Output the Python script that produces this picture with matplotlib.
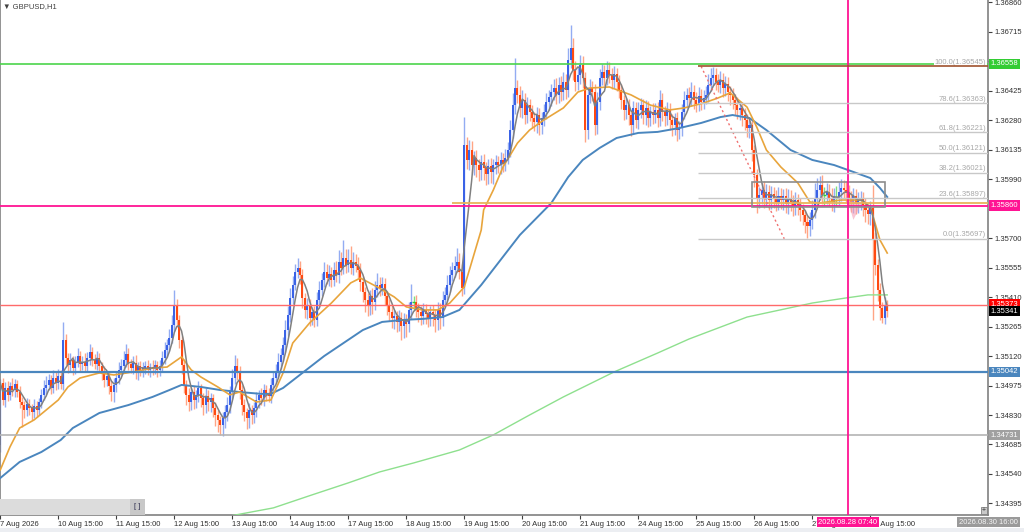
import numpy as np
import pandas as pd
import matplotlib
matplotlib.use("Agg")
import matplotlib.pyplot as plt
from matplotlib.patches import Rectangle, Polygon

plt.rcParams['font.family'] = ['Liberation Sans', 'DejaVu Sans']

# ---------------- data ----------------
symbol_title = "GBPUSD,H1"
open_first = 1.34680

close = [
    1.34988, 1.34904, 1.34963, 1.34929, 1.34973, 1.34953, 1.34983, 1.34943, 1.34894, 1.34879,
    1.34855, 1.34884, 1.34865, 1.34845, 1.34874, 1.34855, 1.34894, 1.34929, 1.34963, 1.34978,
    1.35002, 1.34963, 1.35012, 1.34988, 1.35022, 1.34983, 1.35199, 1.35111, 1.35076, 1.35101,
    1.35061, 1.35091, 1.35120, 1.35081, 1.35091, 1.35071, 1.35111, 1.35140, 1.35101, 1.35081,
    1.35111, 1.35071, 1.35042, 1.35002, 1.35022, 1.34973, 1.34943, 1.34978, 1.35012, 1.35052,
    1.35071, 1.35101, 1.35130, 1.35081, 1.35061, 1.35086, 1.35042, 1.35071, 1.35052, 1.35061,
    1.35071, 1.35052, 1.35066, 1.35057, 1.35076, 1.35052, 1.35071, 1.35111, 1.35150, 1.35175,
    1.35209, 1.35273, 1.35371, 1.35298, 1.35199, 1.35076, 1.34978, 1.34929, 1.34894, 1.34943,
    1.34904, 1.34929, 1.34963, 1.34914, 1.34879, 1.34924, 1.34894, 1.34914, 1.34865, 1.34830,
    1.34806, 1.34781, 1.34815, 1.34845, 1.34879, 1.34943, 1.35012, 1.35071, 1.35042, 1.34953,
    1.34879, 1.34845, 1.34815, 1.34855, 1.34830, 1.34865, 1.34904, 1.34929, 1.34914, 1.34953,
    1.34934, 1.34924, 1.34978, 1.35012, 1.35042, 1.35091, 1.35125, 1.35175, 1.35248, 1.35322,
    1.35406, 1.35470, 1.35534, 1.35553, 1.35519, 1.35406, 1.35347, 1.35371, 1.35307, 1.35337,
    1.35298, 1.35396, 1.35445, 1.35494, 1.35534, 1.35504, 1.35524, 1.35494, 1.35544, 1.35519,
    1.35583, 1.35553, 1.35603, 1.35568, 1.35593, 1.35553, 1.35583, 1.35563, 1.35544, 1.35485,
    1.35435, 1.35396, 1.35371, 1.35416, 1.35386, 1.35445, 1.35470, 1.35455, 1.35475, 1.35416,
    1.35371, 1.35337, 1.35307, 1.35317, 1.35288, 1.35307, 1.35268, 1.35298, 1.35278, 1.35347,
    1.35386, 1.35386, 1.35357, 1.35337, 1.35317, 1.35347, 1.35327, 1.35307, 1.35337, 1.35322,
    1.35298, 1.35347, 1.35307, 1.35396, 1.35421, 1.35470, 1.35519, 1.35544, 1.35563, 1.35583,
    1.35534, 1.35455, 1.36159, 1.36085, 1.36134, 1.36060, 1.36095, 1.36060, 1.36036, 1.36075,
    1.36045, 1.36016, 1.36055, 1.36026, 1.36060, 1.36075, 1.36060, 1.36085, 1.36065, 1.36095,
    1.36134, 1.36232, 1.36355, 1.36439, 1.36405, 1.36341, 1.36380, 1.36306, 1.36355, 1.36321,
    1.36291, 1.36272, 1.36306, 1.36257, 1.36291, 1.36321, 1.36370, 1.36395, 1.36419, 1.36439,
    1.36405, 1.36454, 1.36419, 1.36469, 1.36429, 1.36577, 1.36636, 1.36528, 1.36469, 1.36503,
    1.36552, 1.36488, 1.36232, 1.36405, 1.36439, 1.36419, 1.36257, 1.36370, 1.36488, 1.36518,
    1.36488, 1.36528, 1.36503, 1.36478, 1.36508, 1.36469, 1.36429, 1.36380, 1.36331, 1.36355,
    1.36306, 1.36257, 1.36341, 1.36282, 1.36331, 1.36355, 1.36306, 1.36341, 1.36291, 1.36321,
    1.36306, 1.36331, 1.36291, 1.36380, 1.36321, 1.36301, 1.36331, 1.36282, 1.36257, 1.36291,
    1.36232, 1.36242, 1.36321, 1.36380, 1.36405, 1.36390, 1.36419, 1.36380, 1.36360, 1.36400,
    1.36370, 1.36390, 1.36405, 1.36454, 1.36488, 1.36503, 1.36469, 1.36454, 1.36478, 1.36439,
    1.36459, 1.36419, 1.36405, 1.36380, 1.36355, 1.36331, 1.36341, 1.36306, 1.36282, 1.36242,
    1.36257, 1.36134, 1.36011, 1.35898, 1.35913, 1.35937, 1.35898, 1.35927, 1.35888, 1.35918,
    1.35898, 1.35878, 1.35908, 1.35888, 1.35908, 1.35868, 1.35898, 1.35878, 1.35858, 1.35888,
    1.35863, 1.35839, 1.35814, 1.35780, 1.35760, 1.35790, 1.35839, 1.35898, 1.35937, 1.35962,
    1.35913, 1.35913, 1.35927, 1.35898, 1.35878, 1.35903, 1.35903, 1.35927, 1.35947, 1.35937,
    1.35922, 1.35898, 1.35878, 1.35908, 1.35868, 1.35888, 1.35898, 1.35863, 1.35839, 1.35819,
    1.35849, 1.35691, 1.35568, 1.35445, 1.35357, 1.35307, 1.35366, 1.35341,
]

# wick length above / below the candle body, in points (0.00001)
wick_up_pts = [
    20, 25, 30, 35, 20, 40, 25, 20, 30, 25, 20, 30, 25, 20, 35, 25, 20, 30, 40, 45,
    30, 25, 40, 30, 35, 30, 89, 30, 25, 35, 20, 30, 40, 25, 30, 45, 30, 40, 25, 30,
    35, 25, 20, 30, 25, 20, 30, 35, 30, 40, 35, 45, 50, 30, 25, 35, 40, 20, 25, 30,
    25, 30, 20, 35, 25, 20, 30, 35, 40, 30, 45, 50, 74, 30, 25, 20, 30, 25, 35, 20,
    30, 25, 35, 20, 25, 40, 30, 25, 20, 30, 25, 20, 30, 35, 40, 30, 45, 55, 40, 30,
    25, 30, 20, 35, 25, 30, 40, 25, 35, 30, 25, 30, 35, 30, 40, 45, 35, 40, 50, 45,
    50, 45, 40, 50, 35, 30, 25, 35, 30, 25, 30, 40, 45, 35, 50, 40, 45, 35, 40, 45,
    60, 50, 90, 45, 55, 70, 50, 40, 45, 35, 30, 25, 35, 30, 40, 45, 60, 40, 35, 30,
    25, 30, 35, 30, 25, 40, 30, 35, 30, 40, 90, 30, 35, 25, 30, 35, 30, 25, 30, 35,
    30, 40, 35, 45, 40, 50, 45, 40, 50, 70, 45, 40, 138, 40, 50, 45, 35, 40, 30, 35,
    40, 30, 35, 40, 30, 35, 30, 40, 35, 45, 40, 50, 60, 148, 40, 45, 50, 35, 40, 30,
    35, 30, 40, 35, 30, 40, 45, 35, 40, 45, 50, 40, 45, 50, 40, 60, 113, 50, 45, 40,
    50, 45, 30, 40, 45, 35, 40, 50, 45, 40, 35, 45, 40, 35, 40, 30, 35, 30, 25, 35,
    30, 25, 35, 30, 40, 35, 30, 40, 35, 30, 45, 35, 40, 50, 35, 30, 40, 35, 30, 25,
    30, 35, 40, 45, 35, 40, 50, 35, 40, 45, 35, 40, 45, 55, 49, 40, 35, 40, 45, 35,
    40, 35, 30, 35, 30, 40, 35, 30, 35, 30, 25, 30, 25, 30, 40, 35, 45, 40, 35, 40,
    35, 40, 45, 40, 35, 40, 45, 40, 35, 40, 30, 35, 30, 25, 30, 40, 50, 74, 60, 45,
    50, 40, 45, 40, 50, 45, 55, 50, 45, 40, 45, 40, 35, 40, 35, 40, 35, 30, 35, 30,
    35, 113, 40, 30, 35, 30, 45, 30,
]
wick_dn_pts = [
    30, 25, 35, 30, 25, 30, 35, 25, 30, 108, 40, 30, 35, 40, 30, 35, 25, 30, 25, 30,
    25, 30, 25, 35, 30, 25, 30, 35, 40, 30, 35, 30, 25, 35, 30, 25, 30, 35, 30, 25,
    30, 35, 40, 35, 30, 40, 45, 50, 35, 30, 25, 30, 35, 30, 25, 30, 35, 40, 30, 35,
    30, 25, 35, 30, 25, 35, 30, 25, 30, 35, 30, 25, 30, 35, 40, 45, 40, 50, 45, 40,
    45, 40, 35, 45, 50, 40, 45, 50, 45, 55, 60, 49, 55, 50, 45, 40, 35, 30, 40, 45,
    50, 45, 55, 50, 45, 40, 45, 40, 35, 40, 35, 30, 35, 30, 25, 30, 35, 30, 35, 30,
    35, 30, 25, 30, 45, 50, 40, 45, 40, 35, 35, 30, 25, 30, 35, 30, 40, 35, 30, 35,
    40, 35, 30, 40, 35, 30, 35, 30, 40, 45, 50, 60, 55, 50, 60, 40, 35, 40, 35, 45,
    50, 45, 50, 55, 50, 45, 70, 60, 65, 40, 45, 40, 45, 50, 45, 40, 50, 45, 40, 55,
    60, 50, 55, 40, 35, 30, 35, 30, 35, 30, 35, 40, 30, 45, 50, 40, 50, 60, 55, 50,
    60, 55, 50, 55, 60, 45, 40, 45, 40, 35, 30, 35, 40, 45, 40, 45, 50, 45, 40, 45,
    50, 45, 55, 50, 45, 40, 35, 40, 45, 40, 45, 40, 45, 40, 45, 35, 40, 50, 45, 40,
    45, 50, 59, 45, 40, 45, 50, 45, 40, 35, 40, 35, 40, 45, 40, 45, 40, 45, 50, 45,
    50, 55, 45, 40, 45, 40, 45, 50, 45, 40, 45, 40, 45, 40, 45, 50, 45, 50, 55, 50,
    55, 45, 40, 35, 40, 35, 40, 45, 40, 35, 40, 35, 30, 35, 30, 35, 40, 35, 40, 45,
    40, 45, 50, 45, 50, 45, 50, 55, 50, 45, 50, 55, 60, 74, 50, 45, 50, 45, 50, 45,
    50, 45, 40, 45, 50, 45, 50, 45, 50, 45, 50, 55, 50, 55, 59, 50, 45, 40, 45, 50,
    45, 50, 45, 40, 45, 50, 45, 40, 45, 40, 50, 45, 50, 55, 50, 45, 50, 55, 60, 50,
    55, 394, 50, 55, 60, 25, 30, 30,
]

# moving averages (bar index, price)
ma_orange_t = [0, 4, 8, 14, 18, 24, 28, 33, 41, 47, 55, 63, 69, 75, 79, 83, 90, 95, 99, 106,
               112, 117, 121, 128, 137, 145, 149, 156, 163, 168, 175, 181, 186, 192, 199, 200,
               204, 208, 214, 219, 225, 233, 239, 244, 252, 261, 269, 277, 283, 291, 297, 302,
               309, 313, 317, 323, 330, 335, 339, 348, 356, 360, 364, 367]
ma_orange_v = [1.34560, 1.34673, 1.34766, 1.34806, 1.34845, 1.34904, 1.34968, 1.35012, 1.35037, 1.35027,
               1.35042, 1.35061, 1.35066, 1.35116, 1.35052, 1.35017, 1.34968, 1.34929, 1.34943, 1.34894,
               1.34904, 1.35037, 1.35184, 1.35283, 1.35381, 1.35480, 1.35504, 1.35460, 1.35411, 1.35362,
               1.35347, 1.35347, 1.35381, 1.35460, 1.35740, 1.35839, 1.35937, 1.36050, 1.36168, 1.36232,
               1.36282, 1.36341, 1.36419, 1.36439, 1.36444, 1.36405, 1.36355, 1.36331, 1.36341, 1.36365,
               1.36390, 1.36415, 1.36345, 1.36247, 1.36134, 1.36050, 1.35972, 1.35878, 1.35873, 1.35888,
               1.35888, 1.35854, 1.35691, 1.35627]
ma_blue_t = [0, 8, 17, 25, 30, 41, 53, 63, 70, 75, 83, 91, 99, 108, 112, 117, 125, 134, 142, 150,
             158, 167, 175, 183, 190, 199, 207, 215, 228, 235, 241, 248, 255, 264, 272, 281, 290,
             298, 303, 310, 317, 327, 336, 345, 353, 360, 364, 367]
ma_blue_v = [1.34520, 1.34599, 1.34648, 1.34707, 1.34766, 1.34840, 1.34879, 1.34919, 1.34953, 1.34978,
             1.34968, 1.34953, 1.34943, 1.34934, 1.34934, 1.34963, 1.35037, 1.35120, 1.35184, 1.35248,
             1.35288, 1.35298, 1.35303, 1.35312, 1.35347, 1.35470, 1.35593, 1.35716, 1.35873, 1.36001,
             1.36085, 1.36144, 1.36193, 1.36218, 1.36223, 1.36242, 1.36267, 1.36296, 1.36306, 1.36291,
             1.36232, 1.36134, 1.36085, 1.36060, 1.36026, 1.35996, 1.35947, 1.35903]
ma_green_t = [95, 113, 129, 144, 157, 171, 190, 204, 219, 233, 254, 272, 285, 309, 336, 350, 359, 367]
ma_green_v = [1.34333, 1.34373, 1.34437, 1.34496, 1.34550, 1.34594, 1.34658, 1.34732, 1.34830, 1.34919,
              1.35042, 1.35135, 1.35204, 1.35312, 1.35381, 1.35406, 1.35421, 1.35421]
fast_ma_period = 5

time_ticks = [0, 24, 48, 72, 96, 120, 144, 168, 192, 216, 240, 264, 288, 312, 336, 360]
time_labels = ["7 Aug 2026", "10 Aug 15:00", "11 Aug 15:00", "12 Aug 15:00", "13 Aug 15:00",
               "14 Aug 15:00", "17 Aug 15:00", "18 Aug 15:00", "19 Aug 15:00", "20 Aug 15:00",
               "21 Aug 15:00", "24 Aug 15:00", "25 Aug 15:00", "26 Aug 15:00", "27 Aug 15:00",
               "28 Aug 15:00"]
price_ticks = [1.34395, 1.34540, 1.34685, 1.34830, 1.34975, 1.35120, 1.35265, 1.35410, 1.35555,
               1.35700, 1.35845, 1.35990, 1.36135, 1.36280, 1.36425, 1.36570, 1.36715, 1.36860]
# tick labels hidden behind the coloured price boxes
price_ticks_covered = [1.35845, 1.36570]

# horizontal levels: price, colour, width, first bar
hlines = [
    (1.36558, '#4CD44C', 1.2, None),
    (1.35860, '#FF1493', 1.3, None),
    (1.35875, '#E8B45A', 1.3, 187),
    (1.35373, '#FF6A6A', 1.0, None),
    (1.35042, '#4A86BE', 1.6, None),
    (1.34731, '#B4B4B4', 1.2, None),
]
price_boxes = [
    (1.36558, '1.36558', '#33CC33', 'white'),
    (1.35860, '1.35860', '#FF1493', 'white'),
    (1.35373, '1.35373', '#FF0000', 'white'),
    (1.35341, '1.35341', '#000000', 'white'),
    (1.35042, '1.35042', '#4A86BE', 'white'),
    (1.34731, '1.34731', '#A0A0A0', 'white'),
]
fib_levels = [100.0, 78.6, 61.8, 50.0, 38.2, 23.6, 0.0]
fib_prices = [1.36545, 1.36363, 1.36221, 1.36121, 1.36021, 1.35897, 1.35697]
fib_start_bar = 288.5
fib_trend = ([290.0, 324.4], [1.36545, 1.35697])
range_box = (311.2, 366.1, 1.35852, 1.35978)
pink_mark = [(350.5, 1.35890), (356.5, 1.35873), (353.0, 1.35790)]
cursor_bar = 350.8
cursor_time = "2026.08.28 07:40"
last_time = "2026.08.30 16:00"

# ---------------- figure ----------------
W, H = 1024, 532
fig = plt.figure(figsize=(W / 100, H / 100), dpi=100)
fig.patch.set_facecolor('white')
ax = fig.add_axes([0, 17 / H, 988 / W, 515 / H])
ax.set_facecolor('white')

c = np.array(close)
n = len(c)
x = np.arange(n)
o = np.r_[open_first, c[:-1]]
hi = np.maximum(o, c) + np.array(wick_up_pts[:n]) * 1e-5
lo = np.minimum(o, c) - np.array(wick_dn_pts[:n]) * 1e-5
bull = c > o + 1e-9
bear = c < o - 1e-9
doji = ~(bull | bear)

wick_col = np.where(bull, '#93ACF2', np.where(bear, '#FFA585', '#7FE07F'))
ax.vlines(x, lo, hi, colors=wick_col, lw=1.0, zorder=2)
ax.bar(x[bull], (c - o)[bull], bottom=o[bull], width=0.85, color='#3A62E6', lw=0, zorder=2.5)
ax.bar(x[bear], (o - c)[bear], bottom=c[bear], width=0.85, color='#FF4A12', lw=0, zorder=2.5)
ax.hlines(c[doji], x[doji] - 0.5, x[doji] + 0.5, colors='#33CC33', lw=1.0, zorder=2.5)

# moving averages
fast = pd.Series(c).rolling(fast_ma_period, min_periods=1).mean()
ax.plot(ma_green_t, ma_green_v, color='#8EE08E', lw=1.0, zorder=3)
ax.plot(ma_blue_t, ma_blue_v, color='#4A86BE', lw=1.4, zorder=3)
ax.plot(ma_orange_t, ma_orange_v, color='#E8A53C', lw=1.2, zorder=3.1)
ax.plot(x, fast, color='#808080', lw=1.1, zorder=3.2)

xmin, xmax = -0.124, 408.7
ax.set_xlim(xmin, xmax)
ax.set_ylim(1.34338, 1.36872)

for p, col, lw, start in hlines:
    ax.hlines(p, xmin if start is None else start, xmax, colors=col, lw=lw, zorder=3.5)

# fibonacci
ytr = ax.get_yaxis_transform()
for lv, p in zip(fib_levels, fib_prices):
    col = '#A0522D' if lv == 100.0 else '#C8C8C8'
    ax.hlines(p, fib_start_bar, xmax, colors=col, lw=1.2 if lv == 100.0 else 1.0, zorder=4.5)
    t = ax.text(986 / 988, p + 0.00003, f"{lv:.1f}({p:.5f})", transform=ytr, ha='right', va='bottom',
                fontsize=5.5, color='#A8A8A8', zorder=4)
    if lv == 100.0:
        t.set_bbox(dict(facecolor='white', edgecolor='none', pad=0.6))
ax.plot(fib_trend[0], fib_trend[1], color='#F07070', lw=1.0, ls=(0, (1.5, 2)), zorder=4)

# rectangle, marker, cursor
ax.add_patch(Rectangle((range_box[0], range_box[2]), range_box[1] - range_box[0],
                       range_box[3] - range_box[2], fill=False, edgecolor='#8C8C8C', lw=1.2, zorder=4))
ax.add_patch(Polygon(pink_mark, closed=True, facecolor='#F4A0B8', edgecolor='none', alpha=0.6, zorder=2.8))
ax.axvline(cursor_bar, color='#FF1493', lw=1.3, zorder=4)

# price axis
ax.yaxis.tick_right()
ax.set_yticks(price_ticks)
ax.set_yticklabels(["" if v in price_ticks_covered else f"{v:.5f}" for v in price_ticks])
ax.tick_params(axis='y', length=3, width=0.8, color='#404040', pad=2, labelsize=5.5, labelcolor='#303030')
ax.set_xticks(time_ticks)
ax.set_xticklabels(time_labels)
ax.tick_params(axis='x', length=3, width=0.8, color='#404040', pad=1.5, labelsize=5.5, labelcolor='#303030')
for lbl in ax.get_xticklabels():
    lbl.set_ha('left')
for s in ['left', 'right', 'bottom']:
    ax.spines[s].set_color('#808080')
    ax.spines[s].set_linewidth(1.2)
ax.spines['top'].set_visible(False)

for p, txt, bg, fg in price_boxes:
    ax.text(1.0025, p, txt, transform=ytr, ha='left', va='center', fontsize=5.5, color=fg,
            zorder=10, clip_on=False,
            bbox=dict(boxstyle='square,pad=0.22', facecolor=bg, edgecolor='none'))

# title and scrollbar widgets
ax.text(3 / 988, 1 - 7 / 515, "\u25bc " + symbol_title, transform=ax.transAxes, ha='left', va='center',
        fontsize=5.5, color='#404040', zorder=10)
ax.add_patch(Rectangle((0, 0), 145 / 988, 16 / 515, transform=ax.transAxes, facecolor='#DCDCDC',
                       edgecolor='none', zorder=6))
ax.add_patch(Rectangle((130 / 988, 0), 15 / 988, 16 / 515, transform=ax.transAxes, facecolor='#C8C8C8',
                       edgecolor='none', zorder=6.5))
ax.text(137.5 / 988, 8 / 515, "[ ]", transform=ax.transAxes, ha='center', va='center', fontsize=5.5,
        color='#303050', zorder=7)
ax.add_patch(Rectangle((981 / 988, 1 / 515), 6 / 988, 7 / 515, transform=ax.transAxes, facecolor='#C8C8C8',
                       edgecolor='#808080', lw=0.6, zorder=7))
ax.text(984 / 988, 4.5 / 515, "+", transform=ax.transAxes, ha='center', va='center', fontsize=5,
        color='#303030', zorder=8)

# bottom time boxes
fig.text(848 / W, (H - 522) / H, cursor_time, ha='center', va='center', fontsize=5.5, color='white',
         bbox=dict(boxstyle='square,pad=0.25', facecolor='#FF1493', edgecolor='none'), zorder=10)
fig.text(988.5 / W, (H - 522) / H, last_time, ha='center', va='center', fontsize=5.5, color='#F4F4F4',
         bbox=dict(boxstyle='square,pad=0.25', facecolor='#9A9A9A', edgecolor='none'), zorder=10)
fig.patches.append(Rectangle((0, 0), 1, 4 / H, transform=fig.transFigure, facecolor='#ECEEF2',
                             edgecolor='none', zorder=0))

fig.savefig("out.png", dpi=100)
